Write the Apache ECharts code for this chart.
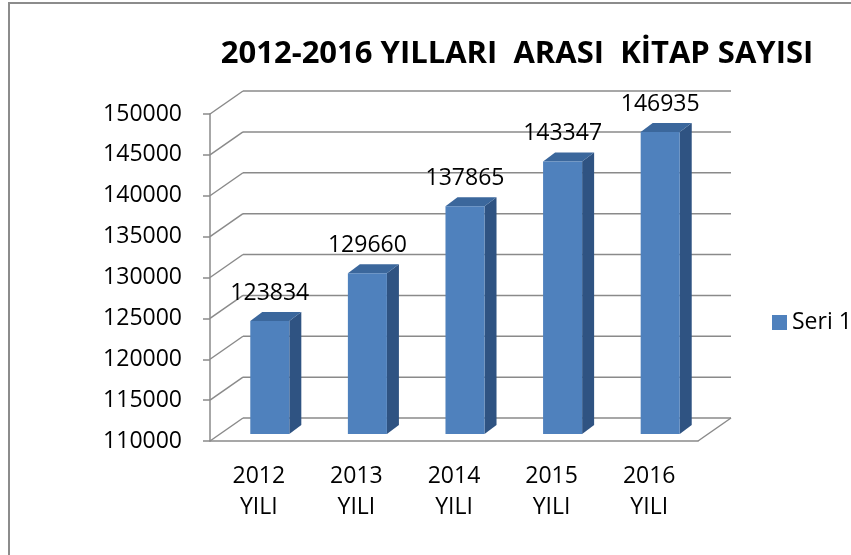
<!DOCTYPE html>
<html>
<head>
<meta charset="utf-8">
<title>Kitap Sayısı</title>
<script src="https://cdn.jsdelivr.net/npm/echarts@6/dist/echarts.min.js"></script>
<style>
html, body { margin: 0; padding: 0; background: #fff; }
#chart { width: 851px; height: 555px; }
</style>
</head>
<body>
<div id="chart"></div>
<script>
const categories = ['2012\nYILI', '2013\nYILI', '2014\nYILI', '2015\nYILI', '2016\nYILI']
const kitapSayisi = [123834, 129660, 137865, 143347, 146935]
const yTicks = [110000, 115000, 120000, 125000, 130000, 135000, 140000, 145000, 150000]

const FONT = '"Open Sans", "Noto Sans", sans-serif'
const GRID = '#8a8a8a'
// arka duvar kaydirmasi (3d derinlik)
const DEPTH_X = 33
const DEPTH_Y = -23

const chart = echarts.init(document.getElementById('chart'))

// arka duvar + zemin cizgileri
const renderWall = (params, api) => {
	const cs = params.coordSys
	const y = api.coord([0, api.value(1)])[1]
	const x0 = cs.x
	const x1 = cs.x + cs.width
	const style = { stroke: GRID, lineWidth: 1.5 }
	const children = [
		{ type: 'line', shape: { x1: x0, y1: y, x2: x0 + DEPTH_X, y2: y + DEPTH_Y }, style },
		{ type: 'line', shape: { x1: x0 + DEPTH_X, y1: y + DEPTH_Y, x2: x1 + DEPTH_X, y2: y + DEPTH_Y }, style }
	]
	if (params.dataIndex === 0) {
		children.push({ type: 'line', shape: { x1: x1, y1: y, x2: x1 + DEPTH_X, y2: y + DEPTH_Y }, style })
	}
	return { type: 'group', children }
}

// 3d sutun
const renderBar = (params, api) => {
	const i = api.value(0)
	const top = api.coord([i, api.value(1)])
	const base = api.coord([i, yTicks[0]])
	const w = api.size([1, 0])[0] * 0.4
	const ox = 11, oy = -7 // sutun on yuzeyin biraz gerisinde
	const dx = 12, dy = -9 // sutun derinligi
	const l = top[0] - w / 2 + ox
	const r = l + w
	const t = top[1] + oy
	const b = base[1] + oy
	return {
		type: 'group',
		children: [
			{ type: 'polygon', shape: { points: [[r, t], [r + dx, t + dy], [r + dx, b + dy], [r, b]] }, style: { fill: '#2f5382' } },
			{ type: 'polygon', shape: { points: [[l, t], [l + dx, t + dy], [r + dx, t + dy], [r, t]] }, style: { fill: '#3b679c' } },
			{ type: 'rect', shape: { x: l, y: t, width: w, height: b - t }, style: { fill: '#4f81bd' } },
			{
				type: 'text',
				x: (l + r) / 2,
				y: t + dy - 7,
				style: { text: String(api.value(1)), fill: '#000', fontSize: 23, fontFamily: FONT, align: 'center', verticalAlign: 'bottom' }
			}
		]
	}
}

chart.setOption({
	animation: false,
	title: {
		text: '2012-2016 YILLARI  ARASI  KİTAP SAYISI',
		left: 512,
		top: 34,
		textAlign: 'center',
		textStyle: { fontFamily: FONT, fontSize: 31, fontWeight: 'bold', color: '#000' }
	},
	legend: {
		data: ['Seri 1'],
		left: 767,
		top: 306,
		itemWidth: 15,
		itemHeight: 15,
		icon: 'rect',
		textStyle: { fontFamily: FONT, fontSize: 23, color: '#000' }
	},
	grid: { left: 210, top: 114, width: 488, height: 327 },
	xAxis: {
		type: 'category',
		data: categories,
		axisLine: { lineStyle: { color: GRID, width: 1.5 } },
		axisTick: { length: 9, lineStyle: { color: GRID, width: 1.5 } },
		axisLabel: { margin: 20, fontFamily: FONT, fontSize: 23, lineHeight: 31, color: '#000' }
	},
	yAxis: {
		type: 'value',
		min: 110000,
		max: 150000,
		interval: 5000,
		axisLine: { show: true, lineStyle: { color: GRID, width: 1.5 } },
		axisTick: { show: true, length: 7, lineStyle: { color: GRID, width: 1.5 } },
		axisLabel: { margin: 28, fontFamily: FONT, fontSize: 23, color: '#000', formatter: v => String(v) },
		splitLine: { show: false }
	},
	graphic: [
		{
			type: 'rect',
			silent: true,
			shape: { x: 9, y: 3, width: 1000, height: 1000 },
			style: { fill: 'none', stroke: '#8c8c8c', lineWidth: 2 }
		}
	],
	series: [
		{
			name: 'duvar',
			type: 'custom',
			renderItem: renderWall,
			data: yTicks.map(v => [0, v]),
			z: 1,
			silent: true
		},
		{
			name: 'Seri 1',
			type: 'custom',
			renderItem: renderBar,
			itemStyle: { color: '#4f81bd' },
			encode: { x: 0, y: 1 },
			data: kitapSayisi.map((v, i) => [i, v]),
			z: 2
		}
	]
})
</script>
</body>
</html>
